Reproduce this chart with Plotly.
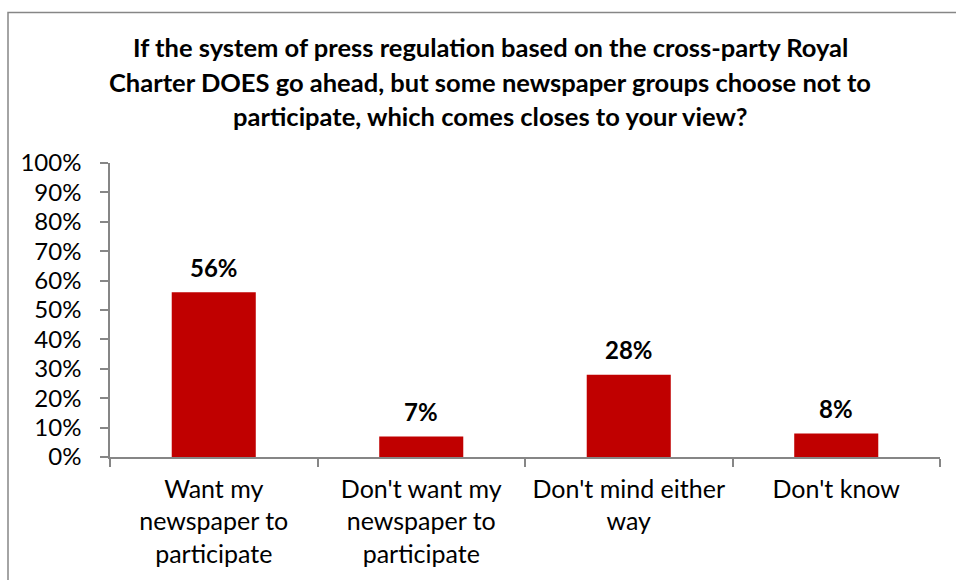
import plotly.graph_objects as go

categories = ["Want my<br>newspaper to<br>participate",
              "Don't want my<br>newspaper to<br>participate",
              "Don't mind either<br>way",
              "Don't know"]
values = [0.56, 0.07, 0.28, 0.08]
value_labels = ["56%", "7%", "28%", "8%"]
title_lines = ["If the system of press regulation based on the cross-party Royal",
               "Charter DOES go ahead, but some newspaper groups choose not to",
               "participate, which comes closes to your view?"]

W, H = 956, 580
L, R, T, B = 110, 16, 163, 123
PW, PH = W - L - R, H - T - B

def px_x(px):
    return (px - L) / PW

def px_y(py):
    return (H - B - py) / PH

FONT = "Lato"
BAR = "#C00000"
AX = "#868686"

fig = go.Figure()
fig.add_trace(go.Bar(x=categories, y=values, marker=dict(color=BAR, line=dict(width=0)),
                     hoverinfo="skip"))

annotations = []
for c, v, t in zip(categories, values, value_labels):
    annotations.append(dict(x=c, y=v, xref="x", yref="y", text="<b>%s</b>" % t,
                            showarrow=False, yanchor="middle", yshift=25,
                            font=dict(family=FONT, size=24, color="black")))

title_y = [47, 82, 116]
for line, py in zip(title_lines, title_y):
    annotations.append(dict(x=px_x(490), y=px_y(py), xref="paper", yref="paper",
                            text="<b>%s</b>" % line, showarrow=False,
                            xanchor="center", yanchor="middle",
                            font=dict(family=FONT, size=25.5, color="black")))

fig.update_layout(
    width=W, height=H,
    margin=dict(l=L, r=R, t=T, b=B, pad=0),
    paper_bgcolor="white", plot_bgcolor="white",
    showlegend=False,
    bargap=0.595,
    font=dict(family=FONT, size=24, color="black"),
    annotations=annotations,
    shapes=[dict(type="rect", xref="paper", yref="paper",
                 x0=px_x(8), x1=px_x(990), y0=px_y(620), y1=px_y(12.5),
                 line=dict(color=AX, width=1.5), fillcolor="rgba(0,0,0,0)",
                 layer="below")],
)
fig.update_xaxes(showline=True, linecolor=AX, linewidth=1.5, ticks="outside",
                 tickson="boundaries", ticklen=8, tickcolor=AX, tickwidth=1.5,
                 showgrid=False, ticklabelstandoff=9,
                 tickfont=dict(family=FONT, size=25, color="black"))
fig.update_yaxes(range=[0, 1], dtick=0.1, tickformat=".0%", showline=True,
                 linecolor=AX, linewidth=1.5, ticks="outside", ticklen=8,
                 tickcolor=AX, tickwidth=1.5, showgrid=False, zeroline=False,
                 ticklabelstandoff=14,
                 tickfont=dict(family=FONT, size=24, color="black"))

fig.write_html("out.html", config={"displayModeBar": False},
               post_script="document.body.style.margin='0';")
